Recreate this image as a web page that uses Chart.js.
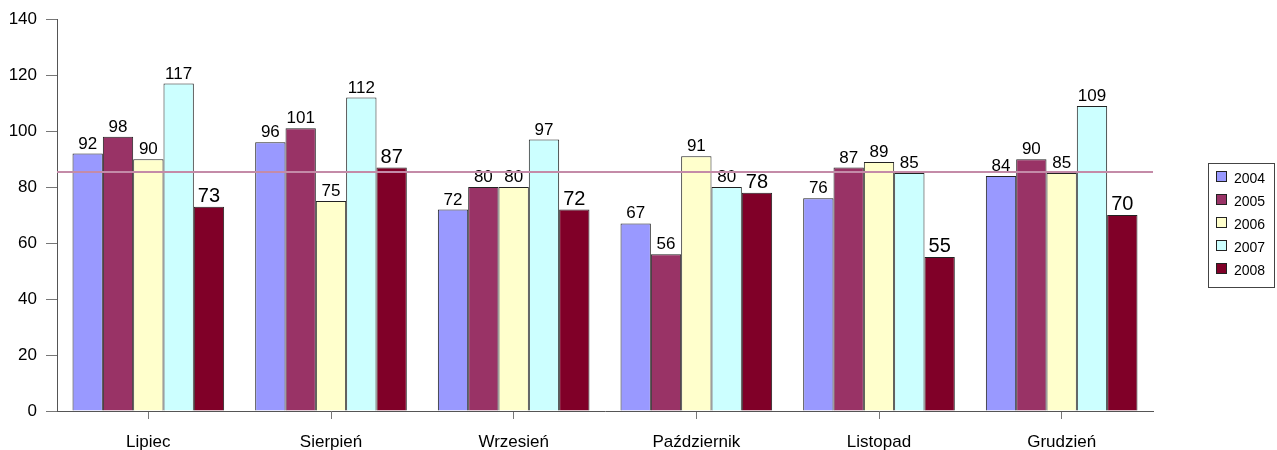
<!DOCTYPE html>
<html>
<head>
<meta charset="utf-8">
<script src="https://cdn.jsdelivr.net/npm/chart.js@4"></script>
<style>
  html, body { margin: 0; padding: 0; background: #fff; }
  #wrap { width: 1277px; height: 450px; }
</style>
</head>
<body>
<div id="wrap"><canvas id="myChart" width="1277" height="450"></canvas></div>
<script>
// chart values
const months = ['Lipiec', 'Sierpień', 'Wrzesień', 'Październik', 'Listopad', 'Grudzień'];
const years = ['2004', '2005', '2006', '2007', '2008'];
const values2004 = [92, 96, 72, 67, 76, 84];
const values2005 = [98, 101, 80, 56, 87, 90];
const values2006 = [90, 75, 80, 91, 89, 85];
const values2007 = [117, 112, 97, 80, 85, 109];
const values2008 = [73, 87, 72, 78, 55, 70];
const referenceValue = 85.5;
const yTicks = [0, 20, 40, 60, 80, 100, 120, 140];

const colors = ['#9999FF', '#993366', '#FFFFCC', '#CCFFFF', '#800028'];
const FONT = "'Liberation Sans', Arial, sans-serif";

// labels above bars, last series drawn bigger
const barLabels = {
  id: 'barLabels',
  afterDatasetsDraw(chart) {
    const ctx = chart.ctx;
    ctx.save();
    ctx.fillStyle = '#000';
    ctx.textAlign = 'center';
    ctx.textBaseline = 'alphabetic';
    chart.data.datasets.forEach((ds, i) => {
      const meta = chart.getDatasetMeta(i);
      ctx.font = (i === 4 ? '20px ' : '17px ') + FONT;
      meta.data.forEach((bar, j) => {
        ctx.fillText(String(ds.data[j]), bar.x, bar.y - 5);
      });
    });
    ctx.restore();
  }
};

// horizontal reference line on top of the bars
const refLine = {
  id: 'refLine',
  afterDatasetsDraw(chart) {
    const { ctx, chartArea, scales } = chart;
    const y = Math.round(scales.y.getPixelForValue(referenceValue));
    ctx.save();
    ctx.strokeStyle = '#C48BA8';
    ctx.lineWidth = 2;
    ctx.beginPath();
    ctx.moveTo(chartArea.left, y);
    ctx.lineTo(chartArea.right, y);
    ctx.stroke();
    ctx.restore();
  }
};

// boxed legend on the right
const boxLegend = {
  id: 'boxLegend',
  afterDraw(chart) {
    const ctx = chart.ctx;
    ctx.save();
    ctx.strokeStyle = '#444';
    ctx.lineWidth = 1;
    ctx.strokeRect(1208.5, 163.5, 66, 124);
    ctx.font = '14px ' + FONT;
    ctx.textAlign = 'left';
    ctx.textBaseline = 'alphabetic';
    chart.data.datasets.forEach((ds, i) => {
      const top = 171 + i * 23;
      ctx.fillStyle = ds.backgroundColor;
      ctx.fillRect(1216, top, 11, 11);
      ctx.strokeStyle = '#222';
      ctx.strokeRect(1216.5, top + 0.5, 10, 10);
      ctx.fillStyle = '#000';
      ctx.fillText(ds.label, 1234, top + 12);
    });
    ctx.restore();
  }
};

const seriesValues = [values2004, values2005, values2006, values2007, values2008];

new Chart(document.getElementById('myChart'), {
  type: 'bar',
  data: {
    labels: months,
    datasets: years.map((y, i) => ({
      label: y,
      data: seriesValues[i],
      backgroundColor: colors[i],
      borderColor: '#222',
      borderWidth: 1,
      categoryPercentage: 0.83,
      barPercentage: 1
    }))
  },
  options: {
    responsive: false,
    animation: false,
    devicePixelRatio: 1,
    layout: { padding: { left: 0, right: 124, top: 18, bottom: 0 } },
    plugins: {
      legend: { display: false },
      tooltip: { enabled: false }
    },
    scales: {
      x: {
        grid: { offset: false, drawOnChartArea: false, drawTicks: true, tickLength: 8, color: '#777' },
        border: { color: '#555' },
        ticks: { color: '#000', font: { family: FONT, size: 17 }, padding: 13, maxRotation: 0 },
        afterFit(scale) { scale.height = 39; }
      },
      y: {
        min: 0,
        max: 140,
        grid: { drawOnChartArea: false, drawTicks: true, tickLength: 11, color: '#777' },
        border: { color: '#555' },
        ticks: { color: '#000', font: { family: FONT, size: 17 }, padding: 9, stepSize: 20 },
        afterBuildTicks(scale) { scale.ticks = yTicks.map(v => ({ value: v })); },
        afterFit(scale) { scale.width = 57; }
      }
    }
  },
  plugins: [barLabels, refLine, boxLegend]
});
</script>
</body>
</html>
